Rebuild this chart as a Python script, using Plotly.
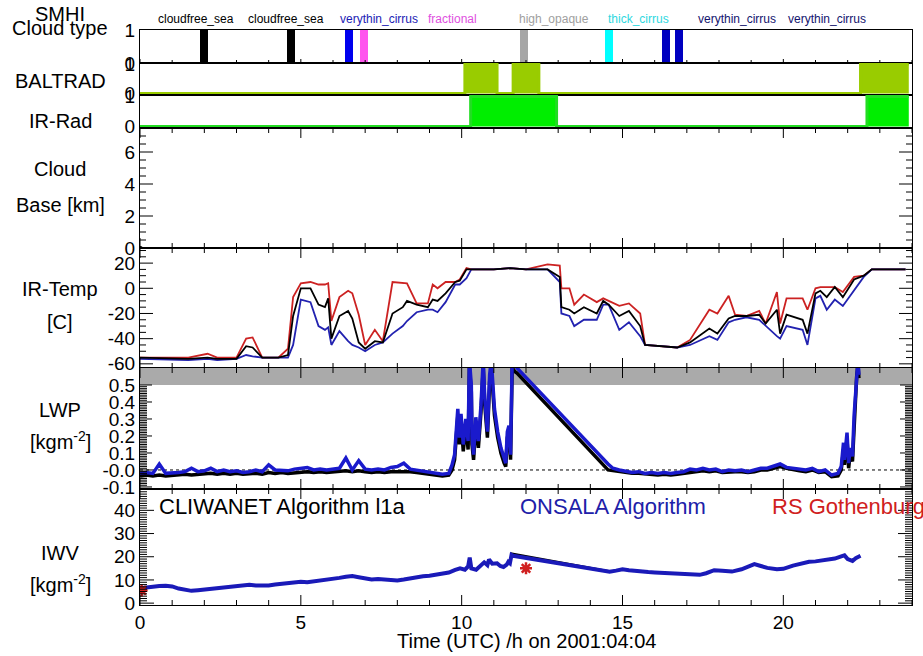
import plotly.graph_objects as go
from plotly.subplots import make_subplots

# ---------------- data ----------------
ct_times = [2.0, 4.69, 6.49, 6.97, 11.93, 14.57, 16.34, 16.77]
ct_flag = [1, 1, 1, 1, 1, 1, 1, 1]
ct_names = ["cloudfree_sea", "cloudfree_sea", "verythin_cirrus", "fractional",
            "high_opaque", "thick_cirrus", "verythin_cirrus", "verythin_cirrus"]
ct_label_x = [1.74, 4.53, 7.42, 9.72, 12.86, 15.5, 18.57, 21.37]
ct_bar_colors = ["#000000", "#000000", "#0000ee", "#ff55ee", "#a6a6a6", "#00ffff", "#0000c0", "#0000c0"]
ct_text_colors = ["#000000", "#000000", "#1c1cb4", "#e050e0", "#a0a0a0", "#30d8e0", "#14146e", "#14146e"]

bal_t = [0.0, 10.1, 11.1, 11.6, 12.4, 22.4, 23.9]
bal_v = [0, 1, 0, 1, 0, 1, 1]
irr_t = [0.0, 10.28, 12.95, 22.6, 23.9]
irr_v = [0, 1, 0, 1, 1]

cb_t = [0.02]
cb_v = [0.0]

irt_t = [0, 1.5, 2.1, 2.4, 3.0, 3.3, 3.5, 3.8, 4.3, 4.6, 4.76, 5.0, 5.3, 5.55, 5.75, 5.85, 5.95,
         6.2, 6.47, 6.6, 6.8, 7.0, 7.3, 7.55, 7.85, 8.17, 8.3, 8.6, 8.95, 9.1, 9.25, 9.5, 9.8,
         9.94, 10.15, 10.3, 11.0, 11.5, 12.0, 12.67, 13.05, 13.1, 13.35, 13.5, 13.8, 14.2, 14.4,
         14.57, 14.9, 15.2, 15.55, 15.7, 16.2, 16.7, 17.1, 17.7, 17.95, 18.3, 18.5, 18.85, 19.25,
         19.45, 19.8, 19.9, 20.1, 20.6, 20.75, 21.0, 21.15, 21.35, 21.6, 21.85, 22.2, 22.5, 22.75, 23.8]
irt_red = [-55, -55, -52, -55, -55, -40, -39, -55, -55, -48, -7, 4, 5, 3, 3, 4, -26, -7, -2, -4,
           -21, -45, -33, -42, 5, 4, 4, -12, -12, 3, 0, 5, 5, 7, 16, 15, 15, 16, 15, 19,
           18, 0, 0, -13, -5, -11, -8, -10, -14, -12, -20, -45, -46, -47, -41, -17, -20, -6, -21, -22,
           -18, -28, -3, -28, -8, -8, -17, 0, 1, 1, 1, -3, 9, 10, 15, 15]
irt_black = [-55, -56, -55, -56, -56, -46, -47, -55, -55, -53, -22, 0, 0, -13, -15, -8, -40, -22, -18, -24,
             -43, -48, -42, -43, -20, -15, -10, -13, -15, -9, -10, -4, 5, 6, 15, 15, 15, 16, 15, 15,
             9, -15, -17, -20, -15, -20, -10, -13, -22, -18, -30, -45, -46, -47, -43, -32, -36, -24, -22, -22,
             -21, -28, -17, -36, -21, -25, -36, -4, -2, -7, 1, -7, 7, 10, 15, 15]
irt_blue = [-56, -57, -56, -57, -56, -53, -54, -55, -55, -55, -45, -9, -11, -30, -33, -31, -45, -34, -42, -45,
            -47, -50, -45, -43, -36, -30, -26, -19, -17, -17, -19, -11, 3, 3, 8, 15, 15, 16, 15, 15,
            5, -20, -22, -30, -25, -25, -13, -13, -33, -27, -38, -45, -46, -47, -45, -38, -41, -27, -25, -23,
            -25, -30, -38, -40, -30, -33, -45, -8, -6, -17, -9, -14, -2, 9, 15, 15]

lwp_t = [0.0, 0.2, 0.4, 0.6, 0.8, 1.0, 1.2, 1.4, 1.6, 1.8, 2.0, 2.2, 2.4, 2.6, 2.8, 3.0, 3.2, 3.4, 3.6, 3.8,
         4.0, 4.2, 4.4, 4.6, 4.8, 5.0, 5.2, 5.4, 5.6, 5.8, 6.0, 6.2, 6.4, 6.6, 6.8, 7.0, 7.2, 7.4, 7.6, 7.8,
         8.0, 8.2, 8.4, 8.6, 8.8, 9.0, 9.2, 9.4, 9.6,
         9.7, 9.78, 9.83, 9.88, 9.93, 9.98, 10.05, 10.13, 10.2, 10.24, 10.3, 10.32, 10.37, 10.44, 10.52,
         10.6, 10.67, 10.72, 10.8, 10.87, 10.92, 10.97, 11.02, 11.12, 11.22, 11.32, 11.37, 11.42, 11.47,
         11.52, 11.57, 11.65, 11.72,
         14.55, 14.7, 14.9, 15.1, 15.3, 15.5, 15.7, 15.9, 16.1, 16.3, 16.5, 16.7, 16.9, 17.1, 17.3, 17.5,
         17.7, 17.9, 18.1, 18.3, 18.5, 18.7, 18.9, 19.1, 19.3, 19.5, 19.7, 19.9, 20.1, 20.3, 20.5, 20.7,
         20.9, 21.1, 21.3, 21.5, 21.7,
         21.8, 21.87, 21.9, 21.98, 22.03, 22.08, 22.15, 22.2, 22.25, 22.28, 22.32, 22.35]
lwp_onsala = [-0.02, -0.015, -0.02, 0.035, -0.02, -0.02, -0.015, -0.01, 0.01, -0.01,
              -0.005, 0.01, -0.01, 0.0, -0.01, -0.005, -0.015, -0.01, 0.0, -0.01,
              0.03, 0.0, 0.0, -0.005, 0.005, 0.01, 0.015, 0.0, 0.005, 0.0,
              0.005, 0.01, 0.07, 0.0, 0.055, 0.005, 0.0, 0.005, 0.0, 0.015,
              0.02, 0.04, 0.005, 0.0, -0.005, -0.015, -0.02, -0.025, -0.02,
              0.03, 0.09, 0.225, 0.36, 0.19, 0.33, 0.15, 0.30, 0.17, 0.65, 0.50, 0.20, 0.09, 0.31, 0.17,
              0.38, 0.65, 0.42, 0.225, 0.56, 0.65, 0.50, 0.36, 0.225, 0.13, 0.07, 0.04, 0.225, 0.26, 0.09,
              0.65, 0.62, 0.60,
              0.035, 0.01, 0.0, -0.01, -0.015, -0.01, -0.02, -0.015, -0.02, -0.015,
              -0.02, -0.015, -0.01, 0.005, 0.0, 0.01, 0.0, 0.005, -0.01, 0.0,
              -0.005, 0.0, -0.01, 0.0, 0.01, 0.01, 0.02, 0.035, 0.015, 0.01,
              0.005, 0.0, 0.01, -0.01, 0.0, -0.03, -0.02,
              0.02, 0.16, 0.06, 0.22, 0.04, 0.13, 0.08, 0.32, 0.50, 0.58, 0.65, 0.56]
lwp_cliwanet = [-0.035, -0.03, -0.035, -0.03, -0.035, -0.03, -0.03, -0.025, -0.03, -0.025,
                -0.025, -0.02, -0.025, -0.02, -0.025, -0.02, -0.025, -0.02, -0.02, -0.025,
                -0.015, -0.02, -0.015, -0.02, -0.015, -0.01, -0.01, -0.015, -0.01, -0.015,
                -0.01, -0.01, -0.005, -0.01, -0.005, -0.01, -0.015, -0.01, -0.015, -0.01,
                -0.01, -0.005, -0.01, -0.015, -0.02, -0.025, -0.03, -0.035, -0.03,
                0.0, 0.06, 0.19, 0.32, 0.15, 0.29, 0.11, 0.26, 0.12, 0.6, 0.46, 0.15, 0.06, 0.27, 0.13,
                0.34, 0.6, 0.38, 0.19, 0.52, 0.6, 0.46, 0.32, 0.19, 0.1, 0.04, 0.02, 0.19, 0.22, 0.06,
                0.6, 0.58, 0.57,
                0.0, -0.005, -0.01, -0.015, -0.02, -0.02, -0.025, -0.025, -0.03, -0.025,
                -0.03, -0.025, -0.02, -0.01, -0.01, -0.005, -0.01, -0.005, -0.015, -0.01,
                -0.01, -0.01, -0.015, -0.01, 0.0, 0.0, 0.01, 0.02, 0.01, 0.0,
                -0.005, -0.01, 0.0, -0.015, -0.01, -0.04, -0.035,
                0.0, 0.12, 0.03, 0.18, 0.01, 0.10, 0.05, 0.28, 0.46, 0.55, 0.62, 0.54]
LWP_SATURATION = 0.5

iwv_t = [0.0, 0.2, 0.4, 0.6, 0.8, 1.0, 1.2, 1.4, 1.6, 1.8, 2.0, 2.2, 2.4, 2.6, 2.8, 3.0, 3.2, 3.4, 3.6, 3.8,
         4.0, 4.2, 4.4, 4.6, 4.8, 5.0, 5.2, 5.4, 5.6, 5.8, 6.0, 6.2, 6.4, 6.6, 6.8, 7.0, 7.2, 7.4, 7.6, 7.8,
         8.0, 8.2, 8.4, 8.6, 8.8, 9.0, 9.2, 9.4, 9.6, 9.8, 9.95, 10.1, 10.2, 10.25, 10.3, 10.45, 10.6,
         10.7, 10.8, 10.85, 10.95, 11.1, 11.2, 11.3, 11.4, 11.45, 11.5, 11.55, 11.6,
         14.6, 14.8, 15.0, 15.2, 15.4, 15.6, 15.8, 16.0, 16.3, 16.6, 16.9, 17.2, 17.4, 17.6, 17.85,
         18.1, 18.4, 18.7, 18.9, 19.1, 19.3, 19.5, 19.8, 20.0, 20.3, 20.6, 20.8, 21.0, 21.3, 21.6,
         21.8, 21.9, 22.0, 22.15, 22.25, 22.4]
iwv_onsala = [6.4, 6.8, 7.2, 7.4, 7.5, 7.2, 6.3, 5.6, 5.3, 5.6, 5.9, 6.2, 6.4, 6.7, 7.0, 7.4, 7.8, 7.9, 7.6, 7.4,
              7.6, 8.0, 8.4, 8.8, 9.1, 9.2, 9.0, 9.3, 9.6, 10.0, 10.4, 10.9, 11.4, 11.7, 11.2, 10.6, 10.2,
              10.4, 10.3, 10.1, 9.8, 10.2, 10.8, 11.2, 11.6, 11.8, 12.2, 12.6, 13.2, 14.3, 15.0, 14.4,
              15.8, 19.6, 15.0, 14.4, 16.0, 17.6, 16.4, 18.8, 17.0, 17.2, 16.0, 15.6, 16.6, 17.8, 17.2,
              20.8, 20.4,
              13.5, 14.0, 14.6, 14.2, 13.8, 13.6, 13.4, 13.2, 13.0, 13.1, 12.9, 12.4, 12.2, 12.9, 14.2,
              14.0, 13.6, 14.6, 15.6, 16.8, 16.0, 15.2, 14.6, 14.8, 16.2, 17.2, 17.8, 18.0, 18.6, 19.2,
              20.2, 20.6, 19.0, 18.2, 19.4, 20.4]
iwv_cliwanet_t = [11.5, 11.55, 14.6, 14.7]
iwv_cliwanet = [17.4, 21.4, 13.8, 13.8]
rs_t = [0.05, 12.0]
rs_iwv = [5.5, 15.0]

x_range = [0, 24]

# ---------------- figure ----------------
W, H = 923, 656
ML, MR, MT, MB = 140, 11, 30, 51
plot_w = W - ML - MR
plot_h = H - MT - MB

def py2paper(py):
    return (H - MB - py) / plot_h

def px2paper(px):
    return (px - ML) / plot_w

panel_px = [(30, 63), (63, 95), (95, 128), (128, 248), (248, 368), (368, 489), (489, 605)]

fig = make_subplots(rows=7, cols=1, shared_xaxes=True, vertical_spacing=0)

FONT = "Liberation Sans, Arial, Helvetica, sans-serif"
RED = "#d02020"
BLUE = "#1a1acc"

fig.add_trace(go.Bar(x=ct_times, y=ct_flag, width=0.25, marker=dict(color=ct_bar_colors, line_width=0)), row=1, col=1)
fig.add_trace(go.Scatter(x=bal_t, y=bal_v, mode="lines", line=dict(shape="hv", color="#99cc00", width=3),
                         fill="tozeroy", fillcolor="#99cc00"), row=2, col=1)
fig.add_trace(go.Scatter(x=irr_t, y=irr_v, mode="lines", line=dict(shape="hv", color="#22dd22", width=3),
                         fill="tozeroy", fillcolor="#00ee00"), row=3, col=1)
fig.add_trace(go.Scatter(x=cb_t, y=cb_v, mode="markers", marker=dict(color="black", size=4)), row=4, col=1)
fig.add_trace(go.Scatter(x=irt_t, y=irt_red, mode="lines", line=dict(color="#cc2222", width=1.8)), row=5, col=1)
fig.add_trace(go.Scatter(x=irt_t, y=irt_blue, mode="lines", line=dict(color="#2222b0", width=1.8)), row=5, col=1)
fig.add_trace(go.Scatter(x=irt_t, y=irt_black, mode="lines", line=dict(color="black", width=1.8)), row=5, col=1)
fig.add_trace(go.Scatter(x=lwp_t, y=lwp_cliwanet, mode="lines", line=dict(color="black", width=3.5)), row=6, col=1)
fig.add_trace(go.Scatter(x=lwp_t, y=lwp_onsala, mode="lines", line=dict(color=BLUE, width=3.5)), row=6, col=1)
fig.add_trace(go.Scatter(x=iwv_cliwanet_t, y=iwv_cliwanet, mode="lines", line=dict(color="black", width=2)), row=7, col=1)
fig.add_trace(go.Scatter(x=iwv_t, y=iwv_onsala, mode="lines", line=dict(color="#1a1ab8", width=4)), row=7, col=1)
fig.add_trace(go.Scatter(x=rs_t, y=rs_iwv, mode="markers",
                         marker=dict(symbol="asterisk-open", size=10, color=RED, line=dict(color=RED, width=2.5))),
              row=7, col=1)

y_ranges = [[0, 1.0], [-0.05, 1.034], [-0.05, 1.05], [0, 7.5], [-63.3, 32], [-0.112, 0.6], [-0.8, 49.2]]
y_tickvals = [[0, 1], [0, 1], [0, 1], [0, 2, 4, 6], [-60, -40, -20, 0, 20],
              [-0.1, 0.0, 0.1, 0.2, 0.3, 0.4, 0.5], [0, 10, 20, 30, 40]]
y_ticktext = [["0", "1"], ["0", "1"], ["0", "1"], ["0", "2", "4", "6"], ["-60", "-40", "-20", "0", "20"],
              ["-0.1", "-0.0", "0.1", "0.2", "0.3", "0.4", "0.5"], ["0", "10", "20", "30", "40"]]

for i, (top, bot) in enumerate(panel_px):
    n = i + 1
    fig.update_yaxes(row=n, col=1, domain=[py2paper(bot), py2paper(top)], range=y_ranges[i],
                     showline=True, linecolor="black", linewidth=1, mirror=True, zeroline=False,
                     showgrid=False, ticks="", tickvals=y_tickvals[i], ticktext=y_ticktext[i],
                     tickfont=dict(size=19, color="black", family=FONT))
    fig.update_xaxes(row=n, col=1, range=x_range, showline=True, linecolor="black", linewidth=1, mirror=True,
                     zeroline=False, showgrid=False, ticks="", dtick=5, tick0=0,
                     tickfont=dict(size=19, color="black", family=FONT), showticklabels=(n == 7))

# ---- tick marks as thin line segments in each panel's own scale ----
px_per_h = plot_w / (x_range[1] - x_range[0])
tick_x = {n: [] for n in range(1, 8)}
tick_y = {n: [] for n in range(1, 8)}

def add_x_ticks(n, major_len, minor_len, top=True, bottom=True):
    r0, r1 = y_ranges[n - 1]
    ph = panel_px[n - 1][1] - panel_px[n - 1][0]
    upp = (r1 - r0) / ph
    for h in range(0, 25):
        ln = (major_len if h % 5 == 0 else minor_len) * upp
        if bottom:
            tick_x[n] += [h, h, None]
            tick_y[n] += [r0, r0 + ln, None]
        if top:
            tick_x[n] += [h, h, None]
            tick_y[n] += [r1, r1 - ln, None]

def add_y_ticks(n, vals, length):
    dx = length / px_per_h
    for v in vals:
        tick_x[n] += [x_range[0], x_range[0] + dx, None, x_range[1], x_range[1] - dx, None]
        tick_y[n] += [v, v, None, v, v, None]

add_x_ticks(1, 4, 3, top=False)
for n in (4, 5, 6, 7):
    add_x_ticks(n, 10, 5)
add_y_ticks(4, [0, 2, 4, 6], 13)
add_y_ticks(4, [k * 0.5 for k in range(15) if k % 4 != 0], 6)
add_y_ticks(5, [-60, -40, -20, 0, 20], 13)
add_y_ticks(5, [v for v in range(-60, 31, 5) if v % 20 != 0], 6)
add_y_ticks(6, [-0.1, 0.0, 0.1, 0.2, 0.3, 0.4, 0.5], 12)
add_y_ticks(6, [round(k * 0.01, 2) for k in range(-11, 50) if k % 10 != 0], 7)
add_y_ticks(7, [0, 10, 20, 30, 40], 14)
add_y_ticks(7, [v for v in range(0, 49) if v % 10 != 0], 7)

for n in range(1, 8):
    if tick_x[n]:
        fig.add_trace(go.Scatter(x=tick_x[n], y=tick_y[n], mode="lines", line=dict(color="black", width=1),
                                 hoverinfo="skip", connectgaps=False), row=n, col=1)

shapes = [
    dict(type="rect", xref="x6", yref="y6", x0=x_range[0], x1=x_range[1], y0=LWP_SATURATION, y1=y_ranges[5][1],
         fillcolor="#aaaaaa", line_width=0, layer="below"),
    dict(type="line", xref="x6", yref="y6", x0=x_range[0], x1=x_range[1], y0=0, y1=0,
         line=dict(color="black", width=1, dash="dot"), layer="below"),
]

ann = []
left_labels = [("SMHI", 14), ("Cloud type", 28), ("BALTRAD", 81), ("IR-Rad", 121), ("Cloud", 169),
               ("Base [km]", 205), ("IR-Temp", 289), ("[C]", 322), ("LWP", 410),
               ("[kgm<sup>-2</sup>]", 440), ("IWV", 553), ("[kgm<sup>-2</sup>]", 583)]
for txt, py in left_labels:
    ann.append(dict(text=txt, xref="paper", yref="paper", x=px2paper(60), y=py2paper(py), xanchor="center",
                    yanchor="middle", showarrow=False, font=dict(size=20, color="black", family=FONT)))
for name, lx, col in zip(ct_names, ct_label_x, ct_text_colors):
    ann.append(dict(text=name, xref="x", yref="paper", x=lx, y=py2paper(19), xanchor="center", yanchor="middle",
                    showarrow=False, font=dict(size=12, color=col, family=FONT)))
ann.append(dict(text="CLIWANET Algorithm l1a", xref="x7", yref="y7", x=0.53, y=41.7, xanchor="left",
                yanchor="middle", showarrow=False, font=dict(size=22, color="black", family=FONT)))
ann.append(dict(text="ONSALA Algorithm", xref="x7", yref="y7", x=14.7, y=41.7, xanchor="center",
                yanchor="middle", showarrow=False, font=dict(size=22, color="#2020a8", family=FONT)))
ann.append(dict(text="RS Gothenburg", xref="x7", yref="y7", x=19.57, y=41.7, xanchor="left",
                yanchor="middle", showarrow=False, font=dict(size=22, color=RED, family=FONT)))
ann.append(dict(text="Time (UTC) /h on 2001:04:04", xref="paper", yref="paper", x=0.5, y=py2paper(641),
                xanchor="center", yanchor="middle", showarrow=False,
                font=dict(size=20, color="black", family=FONT)))

fig.update_layout(width=W, height=H, margin=dict(l=ML, r=MR, t=MT, b=MB),
                  paper_bgcolor="white", plot_bgcolor="white", showlegend=False,
                  shapes=shapes, annotations=ann, bargap=0,
                  font=dict(family=FONT, color="black"))

fig.write_html("out.html")
